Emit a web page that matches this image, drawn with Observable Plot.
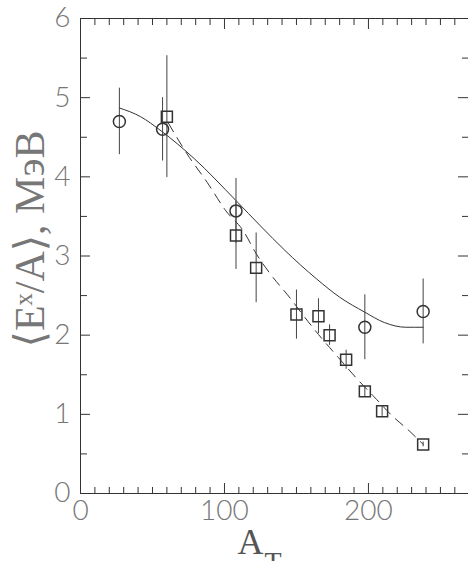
<!DOCTYPE html>
<html>
<head>
<meta charset="utf-8">
<script src="https://cdn.jsdelivr.net/npm/d3@7"></script>
<script src="https://cdn.jsdelivr.net/npm/@observablehq/plot@0.6"></script>
<style>
html,body{margin:0;padding:0;background:#fff;overflow:hidden}
g[aria-label="ylabel"] text{letter-spacing:4px}
</style>
</head>
<body>
<div id="chart"></div>
<script>
// Circles (open) with error bars
const circleA = [27, 57, 108, 197.5, 238];
const circleE = [4.70, 4.60, 3.57, 2.10, 2.30];
const circleErr = [0.42, 0.40, 0.41, 0.41, 0.41];

// Squares (open) with error bars
const squareA = [60, 108, 122, 150, 165.3, 173, 184.5, 197.5, 209.5, 238];
const squareE = [4.76, 3.26, 2.85, 2.26, 2.24, 2.00, 1.69, 1.29, 1.04, 0.62];
const squareErr = [0.77, 0.43, 0.44, 0.31, 0.22, 0.13, 0.12, 0.065, 0.065, 0.03];

// Solid curve
const solidA = [27, 41.7, 56, 79, 108, 125, 142, 164, 180, 197.5, 211, 226, 238];
const solidE = [4.87, 4.76, 4.58, 4.23, 3.70, 3.38, 3.07, 2.71, 2.48, 2.29, 2.16, 2.10, 2.10];

// Dashed curve
const dashA = [61, 74, 88, 101, 113, 122, 132, 146, 156, 168, 179, 192, 204, 216, 229, 238];
const dashE = [4.68, 4.29, 3.93, 3.57, 3.32, 3.03, 2.77, 2.46, 2.22, 1.95, 1.72, 1.45, 1.22, 0.99, 0.78, 0.62];

// Ticks
const xMajor = [0, 100, 200];
const xMinor = d3.range(10, 270, 10).filter(v => v % 100 !== 0);
const yMajor = [0, 1, 2, 3, 4, 5, 6];
const yMinor = [0.5, 1.5, 2.5, 3.5, 4.5, 5.5];

const yLabel = "⟨Eˣ/A⟩, МэВ";
const xLabelMain = "A";
const xLabelSub = "T";

const circles = circleA.map((a, i) => ({a, e: circleE[i], err: circleErr[i]}));
const squares = squareA.map((a, i) => ({a, e: squareE[i], err: squareErr[i]}));
const solid = solidA.map((a, i) => ({a, e: solidE[i]}));
const dashed = dashA.map((a, i) => ({a, e: dashE[i]}));

const W = 468, H = 561, mL = 80, mR = 0, mT = 18, mB = 68;
const FW = W - mL - mR, FH = H - mT - mB;
const ink = "#333";
const tickFont = "Lato, DejaVu Sans, sans-serif";

const plot = Plot.plot({
  width: W,
  height: H,
  marginLeft: mL,
  marginRight: mR,
  marginTop: mT,
  marginBottom: mB,
  x: {domain: [0, 269.5], axis: null},
  y: {domain: [0, 6], axis: null},
  style: {background: "#fff", overflow: "visible"},
  marks: [
    // frame lines
    Plot.ruleX([0], {stroke: ink}),
    Plot.ruleY([0, 6], {stroke: ink}),
    // bottom ticks (inward)
    Plot.tickX(xMinor, {x: d => d, stroke: ink, insetTop: FH - 6}),
    Plot.tickX(xMajor, {x: d => d, stroke: ink, insetTop: FH - 10}),
    // top ticks (inward)
    Plot.tickX(xMinor, {x: d => d, stroke: ink, insetBottom: FH - 7}),
    Plot.tickX(xMajor, {x: d => d, stroke: ink, insetBottom: FH - 11}),
    // left ticks
    Plot.tickY(yMinor, {y: d => d, stroke: ink, insetRight: FW - 7}),
    Plot.tickY(yMajor, {y: d => d, stroke: ink, insetRight: FW - 10}),
    // right ticks
    Plot.tickY(yMinor, {y: d => d, stroke: ink, insetLeft: FW - 6}),
    Plot.tickY(yMajor, {y: d => d, stroke: ink, insetLeft: FW - 10}),
    // tick labels
    Plot.axisX({ticks: xMajor, tickSize: 0, tickPadding: 7, tickFormat: d3.format("d"), fontSize: 28, color: "#777", label: null, fontFamily: tickFont, fontWeight: 300}),
    Plot.axisY({ticks: yMajor, tickSize: 0, tickPadding: 10, tickFormat: d3.format("d"), fontSize: 28, color: "#777", label: null, fontFamily: tickFont, fontWeight: 300}),
    // curves
    Plot.line(solid, {x: "a", y: "e", stroke: ink, strokeWidth: 1, curve: "monotone-x"}),
    Plot.line(dashed, {x: "a", y: "e", stroke: ink, strokeWidth: 1, strokeDasharray: "10,7", curve: "monotone-x"}),
    // error bars
    Plot.ruleX(circles, {x: "a", y1: d => d.e - d.err, y2: d => d.e + d.err, stroke: "#444"}),
    Plot.ruleX(squares, {x: "a", y1: d => d.e - d.err, y2: d => d.e + d.err, stroke: "#444"}),
    // markers
    Plot.dot(circles, {x: "a", y: "e", r: 6, symbol: "circle", stroke: ink, fill: "none"}),
    Plot.dot(squares, {x: "a", y: "e", r: 6.2, symbol: "square", stroke: ink, fill: "none"}),
    // y label
    Plot.text([yLabel], {text: d => d, frameAnchor: "left", textAnchor: "middle", rotate: -90, dx: -50, dy: -17, fontSize: 42, fontFamily: "Liberation Serif, DejaVu Serif, serif", fill: "#777", ariaLabel: "ylabel"}),
    // x label
    Plot.text([xLabelMain], {text: d => d, frameAnchor: "bottom", textAnchor: "end", lineAnchor: "bottom", dx: -11, dy: 60, fontSize: 36, fontFamily: "Liberation Serif, serif", fill: "#555"}),
    Plot.text([xLabelSub], {text: d => d, frameAnchor: "bottom", textAnchor: "start", lineAnchor: "bottom", dx: -10, dy: 77, fontSize: 28, fontFamily: "Liberation Serif, serif", fill: "#555"})
  ]
});
document.getElementById("chart").appendChild(plot);
</script>
</body>
</html>
